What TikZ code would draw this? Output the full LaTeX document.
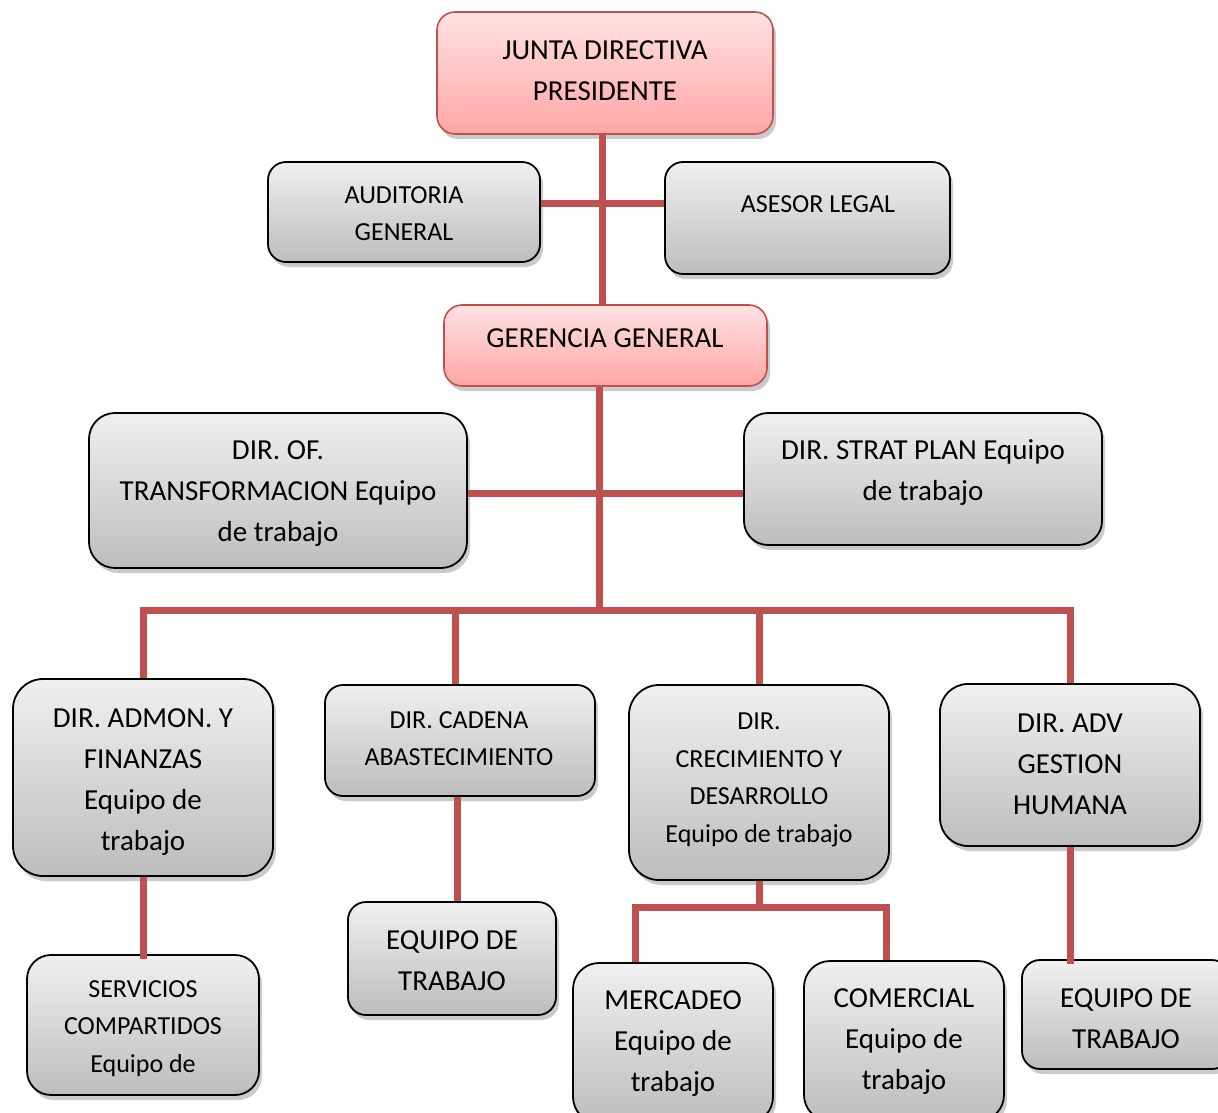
\documentclass[tikz,border=0pt]{standalone}
\usepackage{fontspec}
\setmainfont{Carlito}
\usetikzlibrary{shadows}
\definecolor{conred}{HTML}{C0504D}
\definecolor{gtop}{HTML}{F0F0F0}
\definecolor{gbot}{HTML}{BDBDBD}
\definecolor{ptop}{HTML}{FFE2E2}
\definecolor{pbot}{HTML}{FFA6A6}
\tikzset{
  boxbase/.style={rounded corners=18pt, inner sep=0pt,
    drop shadow={shadow xshift=3pt, shadow yshift=-5pt, opacity=0.35, fill=black!60}},
  gbox/.style={boxbase, draw=black, line width=1.8pt, top color=gtop, bottom color=gbot},
  pbox/.style={boxbase, draw=conred, line width=1.6pt, top color=ptop, bottom color=pbot},
  bigtxt/.style={align=center, inner sep=0pt, yshift=-3pt, font=\fontsize{29}{41}\selectfont},
  smalltxt/.style={align=center, inner sep=0pt, yshift=-2pt, font=\fontsize{26}{37.5}\selectfont},
  con/.style={draw=conred, line width=7pt}
}
\begin{document}
\begin{tikzpicture}[x=1pt,y=-1pt]
\useasboundingbox (0,0) rectangle (1218,1113);
\clip (0,0) rectangle (1218,1113);
\coordinate (t1) at (602,203);
\coordinate (t2) at (599,493);
\coordinate (t3) at (599,610);
\coordinate (t4) at (759,907);
% boxes
\node[pbox, minimum width=336pt, minimum height=122pt] (junta) at (605,73) {};
\node[gbox, minimum width=272pt, minimum height=100pt] (aud) at (404,212) {};
\node[gbox, minimum width=285pt, minimum height=112pt] (ase) at (807.5,218) {};
\node[pbox, minimum width=323pt, minimum height=81pt] (ger) at (605.5,345.5) {};
\node[gbox, minimum width=378pt, minimum height=155pt, rounded corners=26pt] (dof) at (278,490.5) {};
\node[gbox, minimum width=358pt, minimum height=132pt, rounded corners=24pt] (dsp) at (923,479) {};
\node[gbox, minimum width=260pt, minimum height=197pt, rounded corners=30pt] (adm) at (143,777.5) {};
\node[gbox, minimum width=270pt, minimum height=111pt] (cad) at (460,740.5) {};
\node[gbox, minimum width=260pt, minimum height=195pt, rounded corners=30pt] (cre) at (759,782.5) {};
\node[gbox, minimum width=260pt, minimum height=162pt, rounded corners=28pt] (adv) at (1070,765) {};
\node[gbox, minimum width=232pt, minimum height=140pt, rounded corners=24pt] (ser) at (143,1025) {};
\node[gbox, minimum width=208pt, minimum height=113pt] (eq1) at (452,958.5) {};
\node[gbox, minimum width=200pt, minimum height=160pt, rounded corners=26pt] (mer) at (673,1043) {};
\node[gbox, minimum width=200pt, minimum height=160pt, rounded corners=26pt] (com) at (904,1041) {};
\node[gbox, minimum width=208pt, minimum height=109pt] (eq2) at (1126,1014.5) {};
% connectors
\draw[con] (junta.south -| t1) -- (ger.north -| t1);
\draw[con] (aud.east |- t1) -- (ase.west |- t1);
\draw[con] (ger.south -| t2) -- (t3);
\draw[con] (dof.east |- t2) -- (dsp.west |- t2);
\draw[con] (adm.north) -- (adm.north |- t3) -- (adv.north |- t3) -- (adv.north);
\draw[con] (cad.north -| 455,0) -- (455,610);
\draw[con] (cre.north) -- (cre.north |- t3);
\draw[con] (adm.south) -- ([yshift=-5pt]ser.north);
\draw[con] (cad.south -| 457,0) -- (eq1.north -| 457,0);
\draw[con] (cre.south) -- (t4);
\draw[con] (mer.north -| 635,0) -- (635,907) -- (886,907) -- (com.north -| 886,0);
\draw[con] (adv.south) -- ([yshift=-5pt]eq2.north -| adv.south);
% texts
\node[bigtxt, yshift=3pt] (tjunta) at (605,70.5) {JUNTA DIRECTIVA\\PRESIDENTE};
\node[smalltxt, yshift=2pt] (taud) at (404,213.5) {AUDITORIA\\GENERAL};
\node[smalltxt, yshift=2pt] (tase) at (818,204) {ASESOR LEGAL};
\node[bigtxt, yshift=3pt] (tger) at (605,338) {GERENCIA GENERAL};
\node[bigtxt] (tdof) at (278,491) {DIR. OF.\\TRANSFORMACION Equipo\\de trabajo};
\node[bigtxt] (tdsp) at (923,470) {DIR. STRAT PLAN Equipo\\de trabajo};
\node[bigtxt] (tadm) at (143,779) {DIR. ADMON. Y\\FINANZAS\\Equipo de\\trabajo};
\node[smalltxt] (tcad) at (459,736.5) {DIR. CADENA\\ABASTECIMIENTO};
\node[smalltxt] (tcre) at (759,778) {DIR.\\CRECIMIENTO Y\\DESARROLLO\\Equipo de trabajo};
\node[bigtxt] (tadv) at (1070,761.5) {DIR. ADV\\GESTION\\HUMANA};
\node[smalltxt] (tser) at (143,1026.5) {SERVICIOS\\COMPARTIDOS\\Equipo de};
\node[bigtxt] (teq1) at (452,957.5) {EQUIPO DE\\TRABAJO};
\node[bigtxt] (tmer) at (673,1041) {MERCADEO\\Equipo de\\trabajo};
\node[bigtxt] (tcom) at (904,1039) {COMERCIAL\\Equipo de\\trabajo};
\node[bigtxt] (teq2) at (1126,1015.5) {EQUIPO DE\\TRABAJO};
\end{tikzpicture}
\end{document}
